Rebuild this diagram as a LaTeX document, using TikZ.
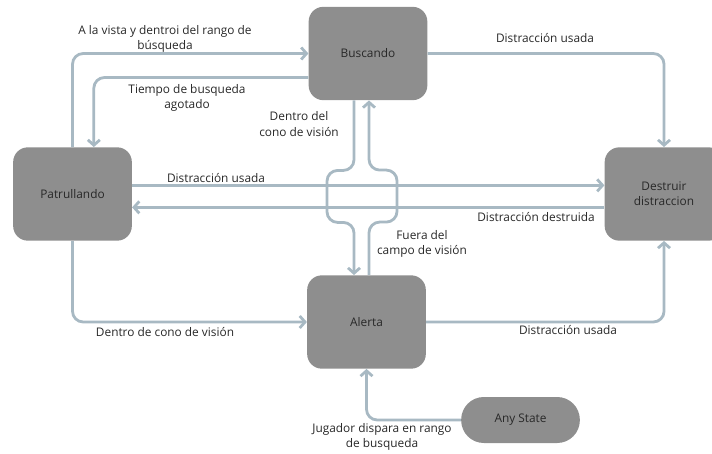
\documentclass[tikz,border=0pt]{standalone}
\usepackage{fontspec}
\setmainfont{Open Sans}
\usepackage{xcolor}
\usetikzlibrary{positioning,arrows.meta}
\definecolor{statec}{RGB}{142,142,142}
\definecolor{linkc}{RGB}{168,185,195}
\definecolor{textc}{RGB}{40,40,40}
\tikzset{
  state/.style    = {fill=statec, rounded corners=11pt, minimum width=89pt, minimum height=70pt,
                     align=center, text=textc, inner sep=2pt, font=\fontsize{8.9}{11.5}\selectfont},
  anystate/.style = {state, rounded corners=17pt, minimum height=34.5pt},
  flow/.style     = {-{Straight Barb[length=4pt,width=9pt]}, line width=2.1pt, draw=linkc,
                     rounded corners=8pt},
  lbl/.style      = {font=\fontsize{8.9}{11.5}\selectfont, text=textc, align=center, inner sep=0pt},
}

\begin{document}
\begin{tikzpicture}[x=0.75pt, y=-0.75pt]
\useasboundingbox (0,0) rectangle (712,453);

% ---------- states ----------
\node[state] (busc) at (368,53.5) {Buscando};
\node[state] (patr) at (72.5,194) {Patrullando};
\node[state] (destr) at (664,194) {Destruir\\distraccion};
\node[state] (alert) at (366.5,322) {Alerta};
\node[anystate] (any) at (520.5,420) {Any State};

% ---------- transitions ----------
\draw[flow] (patr.north) |- (busc.west);
\draw[flow] ([yshift=-18pt]busc.west) -| ([xshift=16pt]patr.north);
\draw[flow] (busc.east) -| (destr.north);
\draw[flow] ([yshift=6.5pt]patr.east) -- ([yshift=6.5pt]destr.west);
\draw[flow] ([yshift=-10pt]destr.west) -- ([yshift=-10pt]patr.east);
\draw[flow] (patr.south) |- (alert.west);
\draw[flow] (alert.east) -| (destr.south);
\draw[flow] (any.west) -| (alert.south);
% the two vertical links bend round the horizontal ones
\draw[flow] ([xshift=-10.5pt]busc.south) -- ++(0,70) -- ++(-27,0) -- ++(0,52) -- ++(27,0)
  -- ([xshift=-10.5pt]busc.south |- alert.north);
\draw[flow] ([xshift=0.75pt]busc.south |- alert.north) -- ++(0,-53) -- ++(28,0) -- ++(0,-52) -- ++(-28,0)
  -- ([xshift=0.75pt]busc.south);

% ---------- labels ----------
\node[lbl] (l1) at (165,39) {A la vista y dentroi del rango de\\búsqueda};
\node[lbl] (l2) at (187,98) {Tiempo de busqueda\\agotado};
\node[lbl] (l3) at (545,38) {Distracción usada};
\node[lbl] (l4) at (299,124) {Dentro del\\cono de visión};
\node[lbl] (l5) at (216,178) {Distracción usada};
\node[lbl] (l6) at (536,217) {Distracción destruida};
\node[lbl] (l7) at (422,244) {Fuera del\\campo de visión};
\node[lbl] (l8) at (165,332) {Dentro de cono de visión};
\node[lbl] (l9) at (568,330) {Distracción usada};
\node[lbl] (l10) at (382,437) {Jugador dispara en rango\\de busqueda};

\end{tikzpicture}
\end{document}
